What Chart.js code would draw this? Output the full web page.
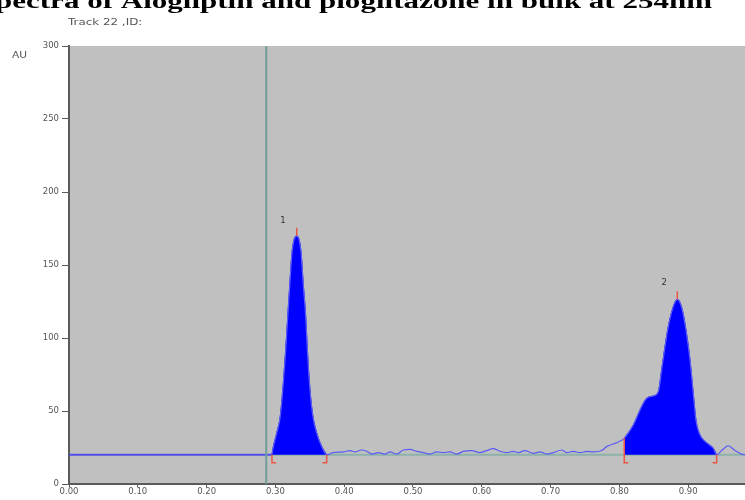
<!DOCTYPE html>
<html>
<head>
<meta charset="utf-8">
<script src="https://cdn.jsdelivr.net/npm/chart.js@4/dist/chart.umd.min.js"></script>
<style>
  html, body { margin: 0; padding: 0; background: #fff; }
  #wrap { position: relative; width: 745px; height: 500px; overflow: hidden; }
</style>
</head>
<body>
<div id="wrap"><canvas id="tlc" width="745" height="500"></canvas></div>
<script>
const titleText = 'Spectra of Alogliptin and pioglitazone in bulk at 254nm';
const trackText = 'Track 22 ,ID:';
const yUnit = 'AU';

// densitogram trace, Rf vs AU
const signalX = [
  0.295, 0.297, 0.302, 0.307, 0.3115, 0.315, 0.318, 0.321, 0.3245, 0.331,
  0.337, 0.3405, 0.344, 0.3465, 0.3495, 0.354, 0.360, 0.3675, 0.3745,
  0.384, 0.399, 0.4085, 0.4157, 0.4254, 0.4327, 0.440, 0.4497, 0.4593, 0.4666,
  0.4763, 0.486, 0.4957, 0.5054, 0.5151, 0.5248, 0.5344, 0.5441, 0.5538, 0.5635,
  0.5732, 0.5853, 0.5974, 0.6071, 0.6168, 0.6265, 0.6362, 0.6459, 0.6531, 0.6628,
  0.675, 0.6846, 0.6943, 0.704, 0.7161, 0.7234, 0.7331, 0.7428, 0.7525, 0.7622,
  0.7743, 0.7815, 0.7912, 0.7985, 0.8071,
  0.8202, 0.8323, 0.8396, 0.8493, 0.8566, 0.8614, 0.8663, 0.8711, 0.8784, 0.8842,
  0.8905, 0.8968, 0.9026, 0.9074, 0.9113, 0.9161, 0.9268, 0.9365, 0.9414,
  0.9487, 0.9584, 0.9681, 0.9777, 0.9826
];
const signalY = [
  20, 25.5, 35, 46, 69, 92, 115, 137, 160, 170,
  160, 137, 115, 92, 69, 48, 35, 25.5, 20,
  21.5, 22.0, 22.9, 22.0, 23.3, 22.4, 20.5, 21.5, 20.5, 22.0,
  20.5, 23.3, 23.7, 22.4, 21.5, 20.5, 22.0, 21.5, 22.0, 20.5,
  22.4, 22.9, 21.5, 22.9, 24.2, 22.4, 21.5, 22.4, 21.5, 22.9,
  21.0, 22.0, 20.5, 21.5, 23.3, 21.5, 22.4, 21.5, 22.4, 22.0,
  22.9, 25.6, 27.4, 28.8, 31.3,
  40.4, 53, 58.7, 60.3, 63.2, 78, 94, 107.8, 121.5, 126.5,
  121, 105.5, 85, 62, 43.8, 34.7, 28.3, 24.5, 20,
  22.9, 26.2, 22.9, 20.5, 20
];

const baselineAU = 20;
const applicationRf = 0.2867;     // start line
const peakStart = [0.295, 0.8071];
const peakEnd = [0.3745, 0.9414];
const peakApexX = [0.331, 0.8842];
const peakNames = ['1', '2'];
const peakNameX = [0.311, 0.865];
const peakNameY = [180, 138];
const xMax = 0.9826;

function pts(xs, ys) {
  return xs.map(function (x, i) { return { x: x, y: ys[i] }; });
}

function valueAt(x) {
  const i = signalX.indexOf(x);
  return i >= 0 ? signalY[i] : baselineAU;
}

const signal = pts(signalX, signalY);

function peakPoints(k) {
  return signal.filter(function (p) { return p.x >= peakStart[k] && p.x <= peakEnd[k]; });
}

// red integration marks: brackets under the baseline and ticks on the apex
const markSets = [];
peakStart.forEach(function (x, k) {
  const top = k === 1 ? valueAt(x) : baselineAU;
  markSets.push([{ x: x, y: top }, { x: x, y: 14.5 }, { x: x + 0.006, y: 14.5 }]);
});
peakEnd.forEach(function (x) {
  markSets.push([{ x: x, y: baselineAU }, { x: x, y: 14.5 }, { x: x - 0.006, y: 14.5 }]);
});
peakApexX.forEach(function (x) {
  const v = valueAt(x);
  markSets.push([{ x: x, y: v }, { x: x, y: v + 5.5 }]);
});

const lineDefaults = {
  showLine: true,
  pointRadius: 0,
  tension: 0,
  fill: false
};

const datasets = [];

datasets.push(Object.assign({}, lineDefaults, {
  data: [{ x: applicationRf, y: 0 }, { x: applicationRf, y: 300 }],
  borderColor: '#6f9d99',
  borderWidth: 2,
  order: 1
}));

markSets.forEach(function (m) {
  datasets.push(Object.assign({}, lineDefaults, {
    data: m,
    borderColor: '#ea5548',
    borderWidth: 1.5,
    order: 0
  }));
});

datasets.push(Object.assign({}, lineDefaults, {
  data: signal,
  borderColor: '#5b5bf5',
  borderWidth: 1.2,
  cubicInterpolationMode: 'monotone',
  order: 3
}));

[0, 1].forEach(function (k) {
  datasets.push(Object.assign({}, lineDefaults, {
    data: peakPoints(k),
    borderColor: '#0000ff',
    backgroundColor: '#0000ff',
    borderWidth: 1,
    cubicInterpolationMode: 'monotone',
    fill: { value: baselineAU },
    order: 4
  }));
});

datasets.push(Object.assign({}, lineDefaults, {
  data: [{ x: 0, y: baselineAU }, { x: peakStart[0], y: baselineAU }],
  borderColor: '#4f4fe8',
  borderWidth: 2,
  order: 5
}));
datasets.push(Object.assign({}, lineDefaults, {
  data: [{ x: peakStart[0], y: baselineAU }, { x: xMax, y: baselineAU }],
  borderColor: '#8db2a9',
  borderWidth: 2,
  order: 6
}));

const plotBackground = {
  id: 'plotBackground',
  beforeDraw(chart) {
    const a = chart.chartArea;
    const ctx = chart.ctx;
    ctx.save();
    ctx.fillStyle = '#c0c0c0';
    ctx.fillRect(a.left, a.top, a.right - a.left, a.bottom - a.top);
    ctx.restore();
  }
};

function stretchedText(ctx, text, x, y, sx) {
  ctx.save();
  ctx.translate(x, y);
  ctx.scale(sx, 1);
  ctx.fillText(text, 0, 0);
  ctx.restore();
}

const texts = {
  id: 'texts',
  afterDraw(chart) {
    const ctx = chart.ctx;
    const xs = chart.scales.x;
    const ys = chart.scales.y;
    ctx.save();
    // the scan is stretched sideways and the title runs off its top and left
    ctx.fillStyle = '#000';
    ctx.font = 'bold 20px "Liberation Serif"';
    ctx.textAlign = 'right';
    ctx.textBaseline = 'alphabetic';
    const sx = 717 / ctx.measureText(titleText.slice(1)).width;
    stretchedText(ctx, titleText, 712, 8, sx);

    ctx.fillStyle = '#555';
    ctx.font = '8.5px "DejaVu Sans"';
    ctx.textAlign = 'left';
    ctx.textBaseline = 'middle';
    stretchedText(ctx, trackText, 68, 22.5, 1.4);
    stretchedText(ctx, yUnit, 12, 56, 1.25);

    ctx.fillStyle = '#333';
    ctx.textAlign = 'center';
    peakNames.forEach(function (n, k) {
      ctx.fillText(n, xs.getPixelForValue(peakNameX[k]), ys.getPixelForValue(peakNameY[k]));
    });
    ctx.restore();
  }
};

new Chart(document.getElementById('tlc'), {
  type: 'scatter',
  data: { datasets: datasets },
  options: {
    responsive: false,
    animation: false,
    devicePixelRatio: 1,
    events: [],
    layout: { padding: { top: 46, right: 0, left: 0, bottom: 0 } },
    plugins: {
      legend: { display: false },
      tooltip: { enabled: false }
    },
    scales: {
      x: {
        type: 'linear',
        min: 0,
        max: xMax,
        afterFit(scale) { scale.height = 16; },
        border: { color: '#5a5a5a', width: 2 },
        grid: { drawOnChartArea: false, tickLength: 3, color: '#5a5a5a' },
        ticks: {
          stepSize: 0.1,
          includeBounds: false,
          padding: 0,
          maxRotation: 0,
          color: '#555',
          font: { family: 'DejaVu Sans', size: 8.5 },
          callback: function (v) { return Number(v).toFixed(2); }
        }
      },
      y: {
        min: 0,
        max: 300,
        afterFit(scale) { scale.width = 69; },
        border: { color: '#5a5a5a', width: 2 },
        grid: { drawOnChartArea: false, tickLength: 7, color: '#5a5a5a' },
        ticks: {
          stepSize: 50,
          padding: 3,
          color: '#555',
          font: { family: 'DejaVu Sans', size: 8.5 }
        }
      }
    }
  },
  plugins: [plotBackground, texts]
});
</script>
</body>
</html>
